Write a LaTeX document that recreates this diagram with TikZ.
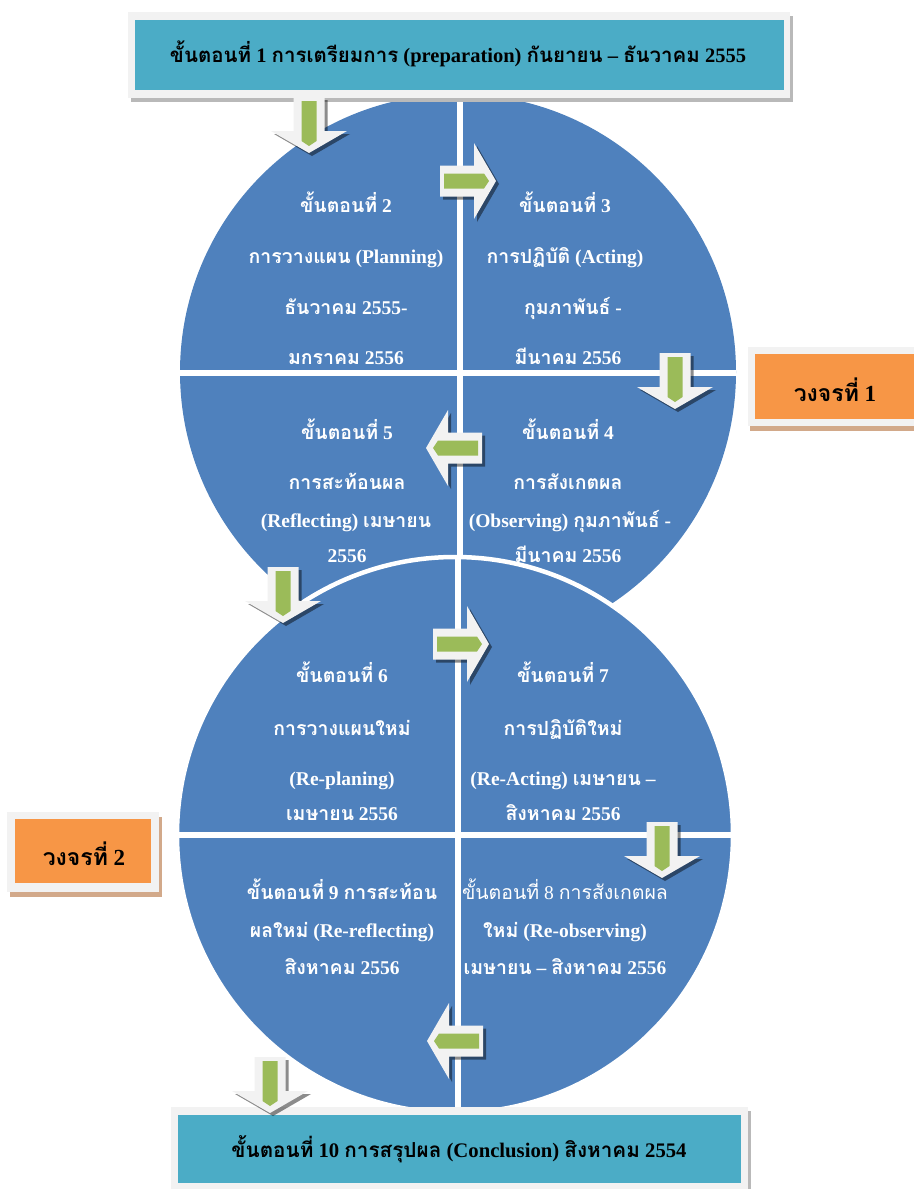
\documentclass[tikz,border=0pt]{standalone}
\usepackage{fontspec}
\setmainfont{Liberation Serif}
\newfontfamily\thf[Script=Thai]{Loma}
\newcommand\T[1]{{\thf #1}}
\definecolor{qblue}{HTML}{4F81BD}
\definecolor{qteal}{HTML}{4BACC6}
\definecolor{qorange}{HTML}{F79646}
\definecolor{qgreen}{HTML}{9BBB59}
\definecolor{qframe}{HTML}{F2F2F2}
\definecolor{qtan}{HTML}{D2A98A}
\newcommand\arrowpath{(0,-15.5) -- (34,-15.5) -- (34,-38) -- (56,0) -- (34,38) -- (34,15.5) -- (0,15.5) -- cycle}
\newcommand\greenpath{(4,-7.5) -- (44,-7.5) -- (49,0) -- (44,7.5) -- (4,7.5) -- cycle}
\newcommand\barrow[3]{%
  \begin{scope}[shift={(#1+3,#2+3)},rotate=#3]\fill[black,opacity=0.45] \arrowpath;\end{scope}
  \begin{scope}[shift={(#1,#2)},rotate=#3]\fill[qframe] \arrowpath;\fill[qgreen] \greenpath;\end{scope}}
\begin{document}
\begin{tikzpicture}[x=1pt,y=-1pt,
  qtext/.style={text=white,font=\fontsize{19.5}{22}\selectfont\bfseries,anchor=base,inner sep=0pt},
  qreg/.style={text=white,font=\fontsize{19.5}{22}\selectfont,anchor=base,inner sep=0pt},
  btext/.style={text=black,font=\fontsize{23}{26}\selectfont\bfseries,anchor=base,inner sep=0pt}]
\useasboundingbox (0,0) rectangle (914,1189);
% top circle
\fill[qblue] (458,372) circle[radius=278pt];
\begin{scope}
\clip (458,372) circle[radius=278pt];
\draw[white,line width=5.5] (460,80) -- (460,700);
\draw[white,line width=5.5] (170,373) -- (750,373);
\end{scope}
% bottom circle
\filldraw[fill=qblue,draw=white,line width=4.5] (455,835) circle[radius=278pt];
\begin{scope}
\clip (455,835) circle[radius=278pt];
\draw[white,line width=5.5] (458,540) -- (458,1120);
\draw[white,line width=5.5] (170,835) -- (750,835);
\end{scope}
% top box
\fill[gray!55] (131,16) rectangle (793,102);
\fill[qframe] (128,12) rectangle (790,98);
\fill[qteal] (135,20) rectangle (784,90);
\node[btext,font=\fontsize{20.5}{24}\selectfont\bfseries] (t1) at (458,62) {\T{ขั้นตอนที่} 1 \T{การเตรียมการ} (preparation) \T{กันยายน} – \T{ธันวาคม} 2555};
% bottom box
\fill[gray!55] (174,1111) rectangle (751,1189);
\fill[qframe] (171,1107) rectangle (748,1189);
\fill[qteal] (178,1115) rectangle (741,1183);
\node[btext,font=\fontsize{20.7}{24}\selectfont\bfseries] (t10) at (459,1157) {\T{ขั้นตอนที่} 10 \T{การสรุปผล} (Conclusion) \T{สิงหาคม} 2554};
% orange boxes
\fill[qtan] (750,352) rectangle (914,431);
\fill[qframe] (748,347) rectangle (914,426);
\fill[qorange] (755,354) rectangle (914,419);
\node[btext] (c1) at (835,401) {\T{วงจรที่} 1};
\fill[qtan] (10,817) rectangle (162,897);
\fill[qframe] (7,812) rectangle (159,892);
\fill[qorange] (15,819) rectangle (151,883);
\node[btext] (c2) at (84,865) {\T{วงจรที่} 2};
% arrows
\barrow{309}{97}{-90}
\barrow{440}{181}{0}
\barrow{675}{353}{-90}
\barrow{482}{448}{180}
\barrow{283}{567}{-90}
\barrow{433}{644}{0}
\barrow{662}{822}{-90}
\barrow{483}{1041}{180}
\barrow{270}{1057}{-90}
% quadrant texts
\node[qtext] (q1a) at (346,212) {\T{ขั้นตอนที่} 2};
\node[qtext] (q1b) at (346,263) {\T{การวางแผน} (Planning)};
\node[qtext] (q1c) at (346,314) {\T{ธันวาคม} 2555-};
\node[qtext] (q1d) at (346,364) {\T{มกราคม} 2556};
\node[qtext] (q2a) at (565,212) {\T{ขั้นตอนที่} 3};
\node[qtext] (q2b) at (565,263) {\T{การปฏิบัติ} (Acting)};
\node[qtext] (q2c) at (573,314) {\T{กุมภาพันธ์} -};
\node[qtext] (q2d) at (568,364) {\T{มีนาคม} 2556};
\node[qtext] (q3a) at (347,439) {\T{ขั้นตอนที่} 5};
\node[qtext] (q3b) at (347,489) {\T{การสะท้อนผล}};
\node[qtext] (q3c) at (346,527) {(Reflecting) \T{เมษายน}};
\node[qtext] (q3d) at (347,562) {2556};
\node[qtext] (q4a) at (568,439) {\T{ขั้นตอนที่} 4};
\node[qtext] (q4b) at (568,489) {\T{การสังเกตผล}};
\node[qtext] (q4c) at (570,527) {(Observing) \T{กุมภาพันธ์} -};
\node[qtext] (q4d) at (568,562) {\T{มีนาคม} 2556};
\node[qtext] (q5a) at (342,682) {\T{ขั้นตอนที่} 6};
\node[qtext] (q5b) at (342,735) {\T{การวางแผนใหม่}};
\node[qtext] (q5c) at (342,785) {(Re-planing)};
\node[qtext] (q5d) at (342,820) {\T{เมษายน} 2556};
\node[qtext] (q6a) at (563,682) {\T{ขั้นตอนที่} 7};
\node[qtext] (q6b) at (563,735) {\T{การปฏิบัติใหม่}};
\node[qtext] (q6c) at (563,785) {(Re-Acting) \T{เมษายน} –};
\node[qtext] (q6d) at (563,820) {\T{สิงหาคม} 2556};
\node[qtext] (q7a) at (342,899) {\T{ขั้นตอนที่} 9 \T{การสะท้อน}};
\node[qtext] (q7b) at (342,937) {\T{ผลใหม่} (Re-reflecting)};
\node[qtext] (q7c) at (342,974) {\T{สิงหาคม} 2556};
\node[qreg] (q8a) at (565,899) {\T{ขั้นตอนที่} 8 \T{การสังเกตผล}};
\node[qtext] (q8b) at (565,937) {\T{ใหม่} (Re-observing)};
\node[qtext] (q8c) at (565,974) {\T{เมษายน} – \T{สิงหาคม} 2556};
\end{tikzpicture}
\end{document}
